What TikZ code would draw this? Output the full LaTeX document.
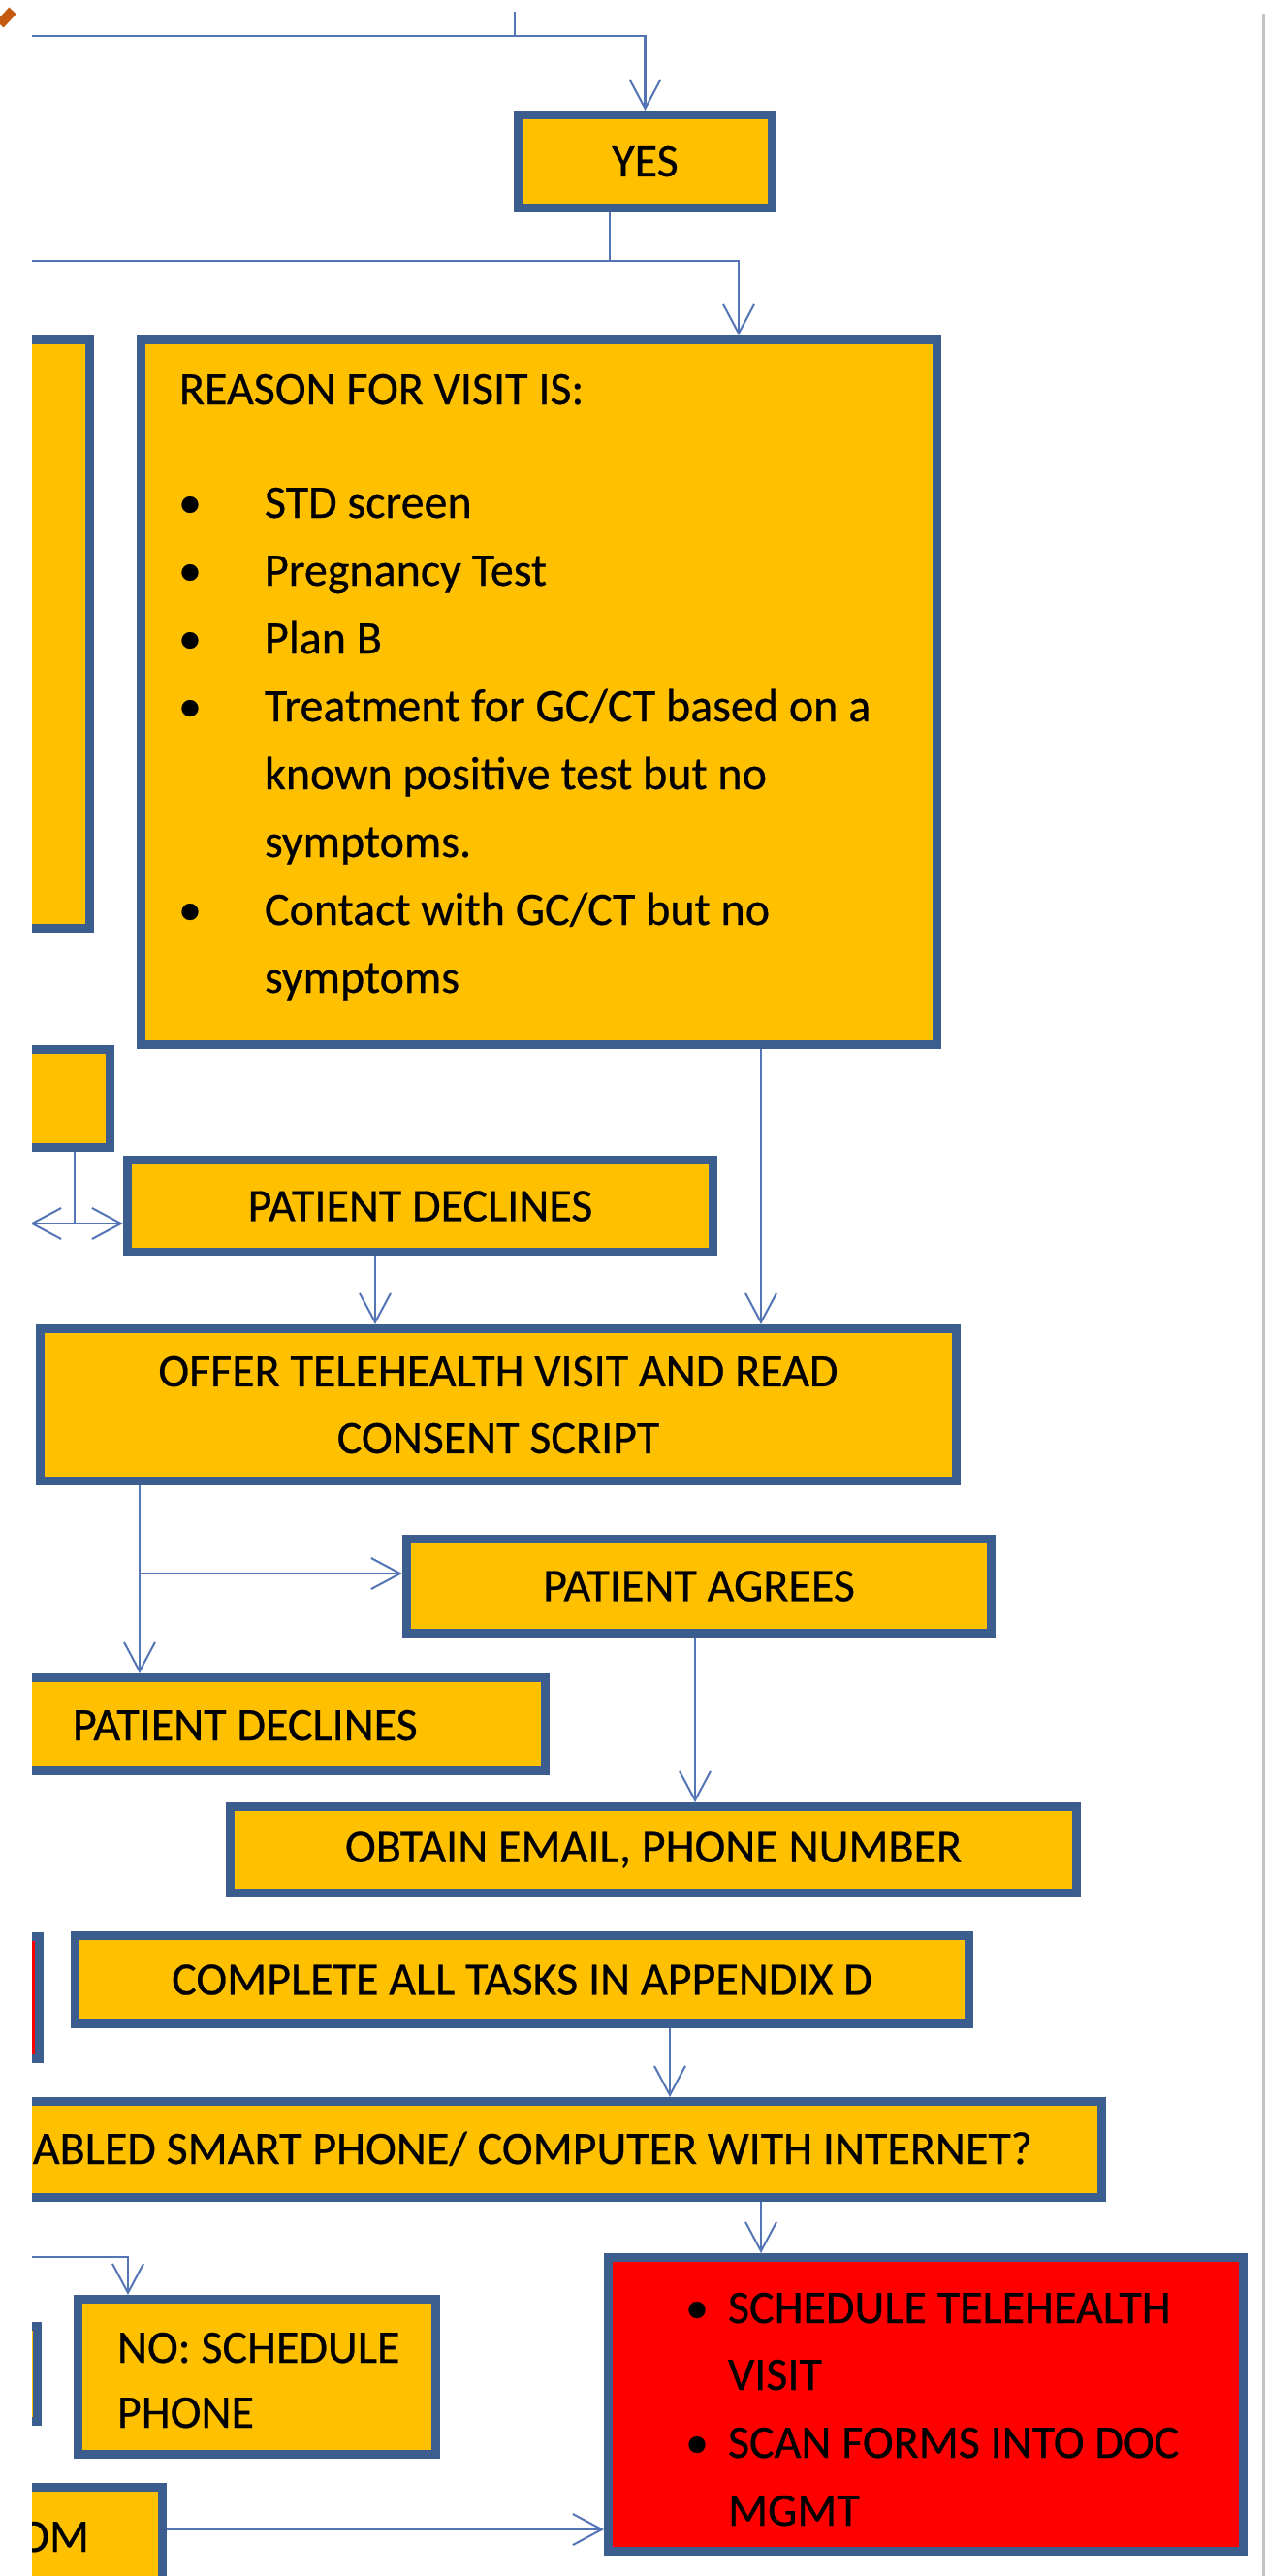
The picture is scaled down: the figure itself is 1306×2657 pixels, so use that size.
\documentclass[tikz,border=0pt]{standalone}
\usepackage{fontspec}
\setmainfont{Carlito}[UprightFeatures={FakeBold=0.5}]
\usetikzlibrary{arrows.meta,calc}
\definecolor{boxfill}{HTML}{FFC000}
\definecolor{boxline}{HTML}{3B5E8F}
\definecolor{connline}{HTML}{5475B5}
\definecolor{redfill}{HTML}{FF0000}
\definecolor{markorange}{HTML}{C55A11}
\definecolor{pagegray}{HTML}{C3C3C3}
\tikzset{
  box/.style={draw=boxline, fill=boxfill, line width=9pt, inner sep=0pt, outer sep=4.5pt, font=\fontsize{48}{69}\selectfont},
  redbox/.style={box, fill=redfill},
  lbl/.style={inner sep=0pt, outer sep=0pt, font=\fontsize{48}{69}\selectfont, text=black},
  conn/.style={draw=connline, line width=2.5pt, -{Straight Barb[length=30pt,width=32pt,line width=2pt]}},
  link/.style={draw=connline, line width=2.5pt},
}
\begin{document}
\begin{tikzpicture}[x=1pt,y=-1pt]
\useasboundingbox (0,0) rectangle (1306,2657);
\fill[white] (0,0) rectangle (1306,2657);
\draw[markorange, line width=10pt] (0,25) -- (13,11);
\begin{scope}
\clip (33,13) rectangle (1306,2657);
\draw[pagegray, line width=3pt] (1303,14) -- (1303,2700);
% boxes
\node[box, minimum width=262pt, minimum height=96pt] (yes) at (665.5,166.5) {YES};
\node[box, minimum width=188pt, minimum height=607pt] (lefta) at (-1.5,654) {};
\node[box, minimum width=821pt, minimum height=727pt] (reason) at (556,714) {};
\node[box, minimum width=209pt, minimum height=101pt] (leftb) at (9,1133) {};
\node[box, minimum width=604pt, minimum height=95pt] (pd1) at (433.5,1244) {PATIENT DECLINES};
\node[box, minimum width=945pt, minimum height=157pt, align=center] (offer) at (514,1449) {OFFER TELEHEALTH VISIT AND READ\\CONSENT SCRIPT};
\node[box, minimum width=603pt, minimum height=97pt] (pa) at (721,1636) {PATIENT AGREES};
\node[box, minimum width=658pt, minimum height=96pt] (pd2) at (233.5,1778.5) {};
\node[box, minimum width=873pt, minimum height=89pt] (obt) at (674,1908) {OBTAIN EMAIL, PHONE NUMBER};
\node[redbox, minimum width=136pt, minimum height=126pt] (redsl) at (-27.5,2060.5) {};
\node[box, minimum width=922pt, minimum height=91pt] (complete) at (538.5,2042) {COMPLETE ALL TASKS IN APPENDIX D};
\node[box, minimum width=1232pt, minimum height=99pt] (smart) at (520.5,2217) {};
\node[redbox, minimum width=655pt, minimum height=303pt] (red) at (955,2480) {};
\node[box, minimum width=134pt, minimum height=98pt] (bluebar) at (-28.5,2448.5) {};
\node[box, minimum width=369pt, minimum height=160pt] (no) at (265,2451.5) {};
\node[box, minimum width=263pt, minimum height=150pt] (boxbl) at (36,2640.5) {};
% texts
\node[lbl, anchor=base west] (rh) at (185,417) {REASON FOR VISIT IS:};
\node[lbl, anchor=base] (rb1) at (196,534) {•};
\node[lbl, anchor=base] (rb2) at (196,604) {•};
\node[lbl, anchor=base] (rb3) at (196,674) {•};
\node[lbl, anchor=base] (rb4) at (196,744) {•};
\node[lbl, anchor=base] (rb5) at (196,954) {•};
\node[lbl, anchor=base west] (rt1) at (273,534) {STD screen};
\node[lbl, anchor=base west] (rt2) at (273,604) {Pregnancy Test};
\node[lbl, anchor=base west] (rt3) at (273,674) {Plan B};
\node[lbl, anchor=base west] (rt4) at (273,744) {Treatment for GC/CT based on a};
\node[lbl, anchor=base west] (rt5) at (273,814) {known positive test but no};
\node[lbl, anchor=base west] (rt6) at (273,884) {symptoms.};
\node[lbl, anchor=base west] (rt7) at (273,954) {Contact with GC/CT but no};
\node[lbl, anchor=base west] (rt8) at (273,1024) {symptoms};
\node[lbl, anchor=base west] (pd2t) at (75,1795) {PATIENT DECLINES};
\node[lbl, anchor=base east] (smartt) at (1065,2232) {ABLED SMART PHONE/ COMPUTER WITH INTERNET?};
\node[lbl, anchor=base] (eb1) at (719,2396) {•};
\node[lbl, anchor=base] (eb2) at (719,2535) {•};
\node[lbl, anchor=base west] (et1) at (751,2396) {SCHEDULE TELEHEALTH};
\node[lbl, anchor=base west] (et2) at (751,2465) {VISIT};
\node[lbl, anchor=base west] (et3) at (751,2535) {SCAN FORMS INTO DOC};
\node[lbl, anchor=base west] (et4) at (751,2605) {MGMT};
\node[lbl, anchor=base west] (not1) at (121,2437) {NO: SCHEDULE};
\node[lbl, anchor=base west] (not2) at (121,2504) {PHONE};
\node[lbl, anchor=base east] (blt) at (92,2632) {OM};
% connectors
\coordinate (t0) at (531,0);
\coordinate (t1) at (531,37);
\draw[link] (t0) -- (t1);
\coordinate (h1) at (20,37);
\draw[conn] (h1) -| (yes.north);
\coordinate (j2) at (629,269);
\draw[link] (yes.south -| j2) -- (j2);
\coordinate (h2) at (20,269);
\coordinate (j2b) at (762,269);
\draw[conn] (h2) -- (j2b) -- (reason.north -| j2b);
\coordinate (jb) at (77,1262);
\draw[link] (leftb.south -| jb) -- (jb);
\coordinate (dl) at (31,1262);
\draw[conn] (jb) -- (dl);
\draw[conn] (jb) -- (pd1.west |- jb);
\path ([xshift=-46.5pt]pd1.south) coordinate (p1);
\draw[conn] (p1) -- (p1 |- offer.north);
\path ([xshift=229pt]reason.south) coordinate (r1);
\draw[conn] (r1) -- (r1 |- offer.north);
\path ([xshift=-370pt]offer.south) coordinate (o1);
\draw[conn] (o1) -- (o1 |- pd2.north);
\path ([yshift=13pt]pa.west) coordinate (pain);
\draw[conn] (o1 |- pain) -- (pain);
\path ([xshift=-4pt]pa.south) coordinate (a1);
\draw[conn] (a1) -- (a1 |- obt.north);
\path ([xshift=152.5pt]complete.south) coordinate (c1);
\draw[conn] (c1) -- (c1 |- smart.north);
\path ([xshift=264.5pt]smart.south) coordinate (s1);
\draw[conn] (s1) -- (s1 |- red.north);
\coordinate (h3) at (20,2328);
\path ([xshift=-133pt]no.north) coordinate (n1);
\draw[conn] (h3) -| (n1);
\path ([yshift=-129pt]red.west) coordinate (rin);
\draw[conn] (boxbl.east |- rin) -- (rin);
\end{scope}
\end{tikzpicture}
\end{document}
